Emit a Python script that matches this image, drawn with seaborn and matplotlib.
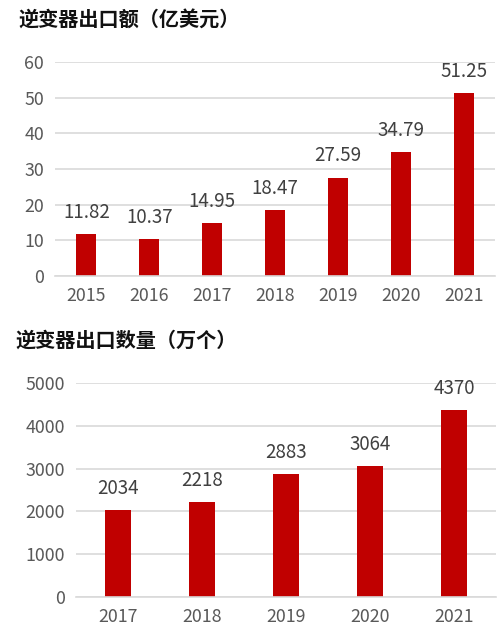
import matplotlib
matplotlib.use("Agg")
import matplotlib.pyplot as plt
import seaborn as sns
import pandas as pd

years_value = ["2015", "2016", "2017", "2018", "2019", "2020", "2021"]
export_value = [11.82, 10.37, 14.95, 18.47, 27.59, 34.79, 51.25]
value_labels = ["11.82", "10.37", "14.95", "18.47", "27.59", "34.79", "51.25"]

years_qty = ["2017", "2018", "2019", "2020", "2021"]
export_qty = [2034, 2218, 2883, 3064, 4370]
qty_labels = ["2034", "2218", "2883", "3064", "4370"]

title_top = "逆变器出口额（亿美元）"
title_bottom = "逆变器出口数量（万个）"

sns.set_theme(style="white")
plt.rcParams['font.family'] = ['Noto Sans CJK SC', 'DejaVu Sans']

BAR = "#C00000"
GRID = "#D9D9D9"
TXT = "#595959"

fig = plt.figure(figsize=(5.0, 6.42), dpi=100)
ax1 = fig.add_axes([0.11, 0.5701, 0.88, 0.3333])
ax2 = fig.add_axes([0.152, 0.0701, 0.84, 0.3333])

def draw(ax, cats, vals, labels, ylim, yticks, width):
    df = pd.DataFrame({"cat": cats, "val": vals})
    sns.barplot(data=df, x="cat", y="val", color=BAR, width=width, ax=ax,
                saturation=1, edgecolor="none")
    ax.set_ylim(*ylim)
    ax.set_yticks(yticks)
    ax.set_xlim(-0.5, len(cats) - 0.5)
    ax.yaxis.grid(True, color=GRID, linewidth=1.2)
    ax.set_axisbelow(True)
    for s in ["top", "right", "left"]:
        ax.spines[s].set_visible(False)
    ax.spines["bottom"].set_color(GRID)
    ax.spines["bottom"].set_linewidth(1.2)
    ax.set_xlabel("")
    ax.set_ylabel("")
    ax.tick_params(axis="both", length=0, labelsize=12.8, labelcolor=TXT)
    ax.tick_params(axis="x", pad=8)
    ax.tick_params(axis="y", pad=8)
    for i, (v, lab) in enumerate(zip(vals, labels)):
        ax.annotate(lab, (i, v), xytext=(0, 8), textcoords="offset points",
                    ha="center", va="bottom", fontsize=13.5, color="#404040")

draw(ax1, years_value, export_value, value_labels, (0, 60), range(0, 61, 10), 0.32)
draw(ax2, years_qty, export_qty, qty_labels, (0, 5000), range(0, 5001, 1000), 0.31)

fig.text(0.036, 0.968, title_top, fontsize=14.5, fontweight="bold", color="#111111",
         ha="left", va="center")
fig.text(0.03, 0.47, title_bottom, fontsize=14.5, fontweight="bold", color="#111111",
         ha="left", va="center")

fig.savefig("out.png", dpi=100)
